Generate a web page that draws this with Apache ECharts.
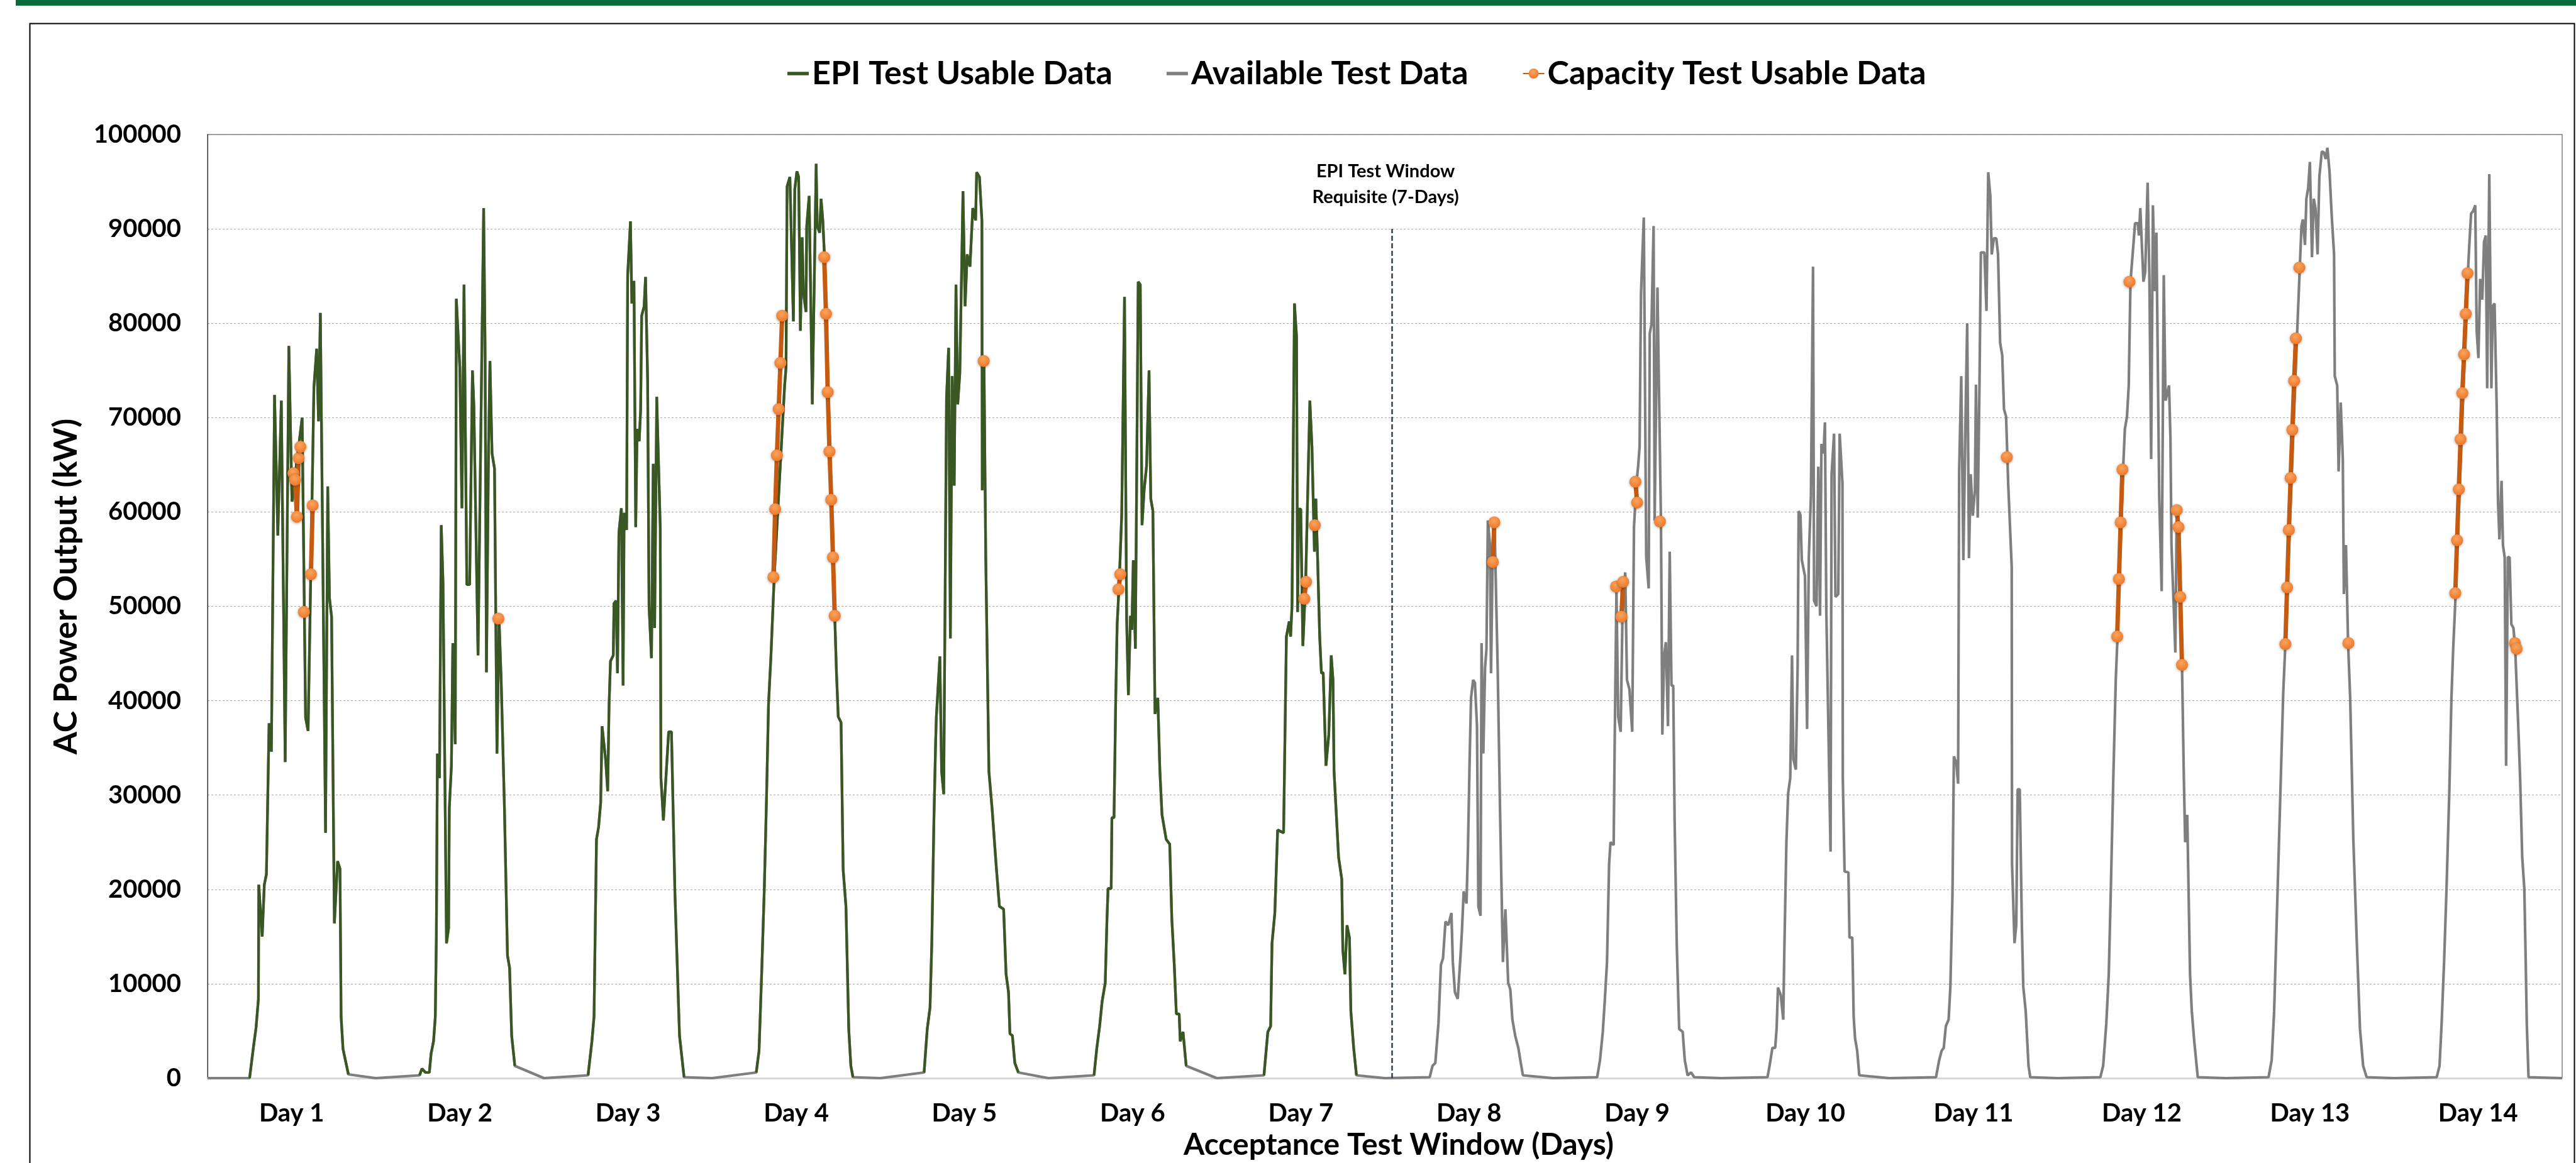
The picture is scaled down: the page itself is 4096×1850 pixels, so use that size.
<!DOCTYPE html>
<html><head><meta charset="utf-8">
<script src="https://cdn.jsdelivr.net/npm/echarts@6/dist/echarts.min.js"></script>
<style>html,body{margin:0;padding:0;background:#fff;overflow:hidden}#c{width:4096px;height:1850px}</style>
</head><body><div id="c"></div>
<script>
// ---------------- data (hour of day, kW) ----------------
const dayLabels = ['Day 1','Day 2','Day 3','Day 4','Day 5','Day 6','Day 7','Day 8','Day 9','Day 10','Day 11','Day 12','Day 13','Day 14'];
const seriesNames = ['EPI Test Usable Data','Available Test Data','Capacity Test Usable Data'];
const epiDayCount = 7;
const epiWindowHour = 169;
const epiWindowTop = 90000;
const annotationText = 'EPI Test Window\nRequisite (7-Days)';
const xAxisTitle = 'Acceptance Test Window (Days)';
const yAxisTitle = 'AC Power Output (kW)';

const day01 = [[6.0,0],[6.57,3400],[6.93,5400],[7.26,8400],[7.31,20500],[7.8,15000],[8.1,20500],[8.4,21600],[8.78,37600],[9.11,34600],[9.56,72400],[10.03,57500],[10.53,71800],[11.08,33500],[11.6,77600],[12.05,61100],[13.5,70000],[13.99,38200],[14.35,36800],[15.18,73200],[15.57,77300],[15.84,69600],[16.1,81100],[16.84,26000],[17.15,62700],[17.4,50900],[17.7,48900],[18.1,16400],[18.56,23000],[18.9,22200],[19.06,6500],[19.33,3100],[19.7,1800],[20.1,400]];
const day02 = [[6.25,300],[6.6,1000],[7.1,600],[7.65,600],[7.9,2600],[8.25,3900],[8.5,6500],[8.65,14900],[8.8,34400],[9.1,31800],[9.35,58600],[9.6,52600],[10.1,14300],[10.4,15900],[10.5,28600],[10.8,33100],[11.0,46100],[11.35,35400],[11.5,82600],[12.0,75300],[12.3,60400],[12.6,84100],[13.0,52300],[13.4,52300],[13.8,75000],[14.0,71400],[14.6,44800],[15.4,92200],[15.6,77900],[15.8,43000],[16.1,66900],[16.3,76000],[16.6,66200],[16.95,64600],[17.3,34400],[17.6,48700],[17.9,42200],[18.35,29200],[18.8,13000],[19.1,11700],[19.4,4500],[19.85,1300]];
const day03 = [[6.3,300],[6.85,3900],[7.15,6500],[7.5,25300],[7.8,26600],[8.1,29200],[8.3,37300],[8.8,33800],[9.1,30400],[9.3,39600],[9.5,44200],[9.9,44800],[10.0,50300],[10.3,50600],[10.5,42900],[10.7,57800],[11.05,60400],[11.3,41600],[11.45,59900],[11.8,58100],[11.95,85100],[12.35,90800],[12.55,82100],[12.85,84500],[13.1,58400],[13.3,68800],[13.6,67500],[13.8,70800],[13.95,80800],[14.3,81800],[14.5,84900],[14.8,74000],[15.0,50000],[15.35,44500],[15.6,65100],[15.8,47700],[16.1,72200],[16.6,58400],[16.7,31800],[17.05,27300],[17.8,36700],[18.2,36700],[18.7,19500],[19.35,4500],[20.0,100]];
const day04 = [[6.3,600],[6.7,2900],[7.1,11700],[7.45,20100],[7.75,29200],[8.05,39600],[8.4,44800],[8.85,52900],[10.35,73400],[10.55,75300],[10.7,94500],[11.1,95500],[11.6,80200],[11.8,94200],[12.1,96100],[12.35,95500],[12.6,79200],[12.85,89100],[13.05,83100],[13.4,81200],[13.5,90300],[13.85,93500],[14.3,71400],[14.85,96900],[15.0,90300],[15.35,89600],[15.55,93200],[15.8,90900],[16.0,87700],[17.5,49000],[17.75,42900],[18.0,38300],[18.4,37700],[18.7,22100],[19.1,18200],[19.5,5200],[19.8,1300],[20.1,100]];
const day05 = [[6.25,600],[6.7,5200],[7.1,7500],[7.35,14300],[7.65,27300],[7.9,35700],[8.0,38300],[8.5,44700],[8.75,32500],[9.05,30100],[9.45,72100],[9.75,77400],[10.0,46600],[10.25,74400],[10.55,62800],[10.8,84100],[11.05,71400],[11.35,74700],[11.8,94000],[12.1,81800],[12.4,87300],[12.8,86000],[13.2,92200],[13.6,90900],[13.75,96000],[14.15,95500],[14.5,90900],[14.55,62300],[14.8,76000],[15.05,55200],[15.5,32500],[15.95,28600],[16.55,22400],[17.0,18200],[17.6,17900],[17.95,11000],[18.3,9100],[18.5,4700],[18.85,4500],[19.2,1600],[19.7,600]];
const day06 = [[6.5,300],[6.9,3200],[7.3,5500],[7.65,8100],[8.1,10100],[8.35,16900],[8.5,20100],[8.95,20100],[9.05,27600],[9.35,27600],[9.6,40300],[9.8,48100],[10.1,52600],[10.45,59700],[10.85,82800],[11.15,48700],[11.4,40600],[11.7,49000],[11.9,47500],[12.1,54900],[12.4,45500],[12.8,84400],[13.1,84100],[13.35,58600],[13.65,62300],[14.0,64900],[14.35,75000],[14.6,61400],[14.9,60100],[15.2,38600],[15.6,40300],[15.9,32500],[16.2,27900],[16.8,25300],[17.3,24800],[17.6,16900],[17.95,12000],[18.25,6800],[18.65,6800],[18.8,3900],[19.2,4900],[19.65,1300]];
const day07 = [[6.75,300],[7.3,4900],[7.7,5500],[7.9,14300],[8.3,17500],[8.7,26300],[9.55,26000],[9.95,46800],[10.35,48400],[10.55,46800],[10.75,50000],[11.1,82100],[11.4,78600],[11.55,49400],[11.7,60300],[12.0,60300],[12.3,45800],[12.7,52600],[13.3,71800],[13.6,66900],[13.95,55800],[14.15,61400],[14.4,55200],[14.7,46800],[14.95,42900],[15.2,43000],[15.6,33100],[16.0,36400],[16.35,44800],[16.6,42200],[16.75,32500],[17.4,23400],[17.85,21100],[18.0,13600],[18.3,11000],[18.6,16200],[18.95,14900],[19.15,7100],[19.55,3200],[19.95,300]];
const day08 = [[6.4,100],[6.8,1300],[7.2,1600],[7.65,5800],[8.0,12000],[8.3,12700],[8.65,16600],[9.05,16200],[9.5,17500],[9.7,12300],[10.0,9100],[10.4,8400],[10.8,13000],[11.0,15600],[11.25,19800],[11.65,18500],[11.85,24000],[12.1,33800],[12.3,40300],[12.6,42200],[12.85,41900],[13.15,37300],[13.35,18200],[13.65,17200],[13.8,46100],[14.05,34400],[14.3,43500],[14.5,45500],[14.7,59100],[15.0,56500],[15.15,42900],[15.4,56200],[15.65,58800],[16.1,43500],[16.45,27900],[16.85,12300],[17.2,17900],[17.6,10100],[17.9,9400],[18.2,6200],[18.6,4500],[19.05,3200],[19.4,1600],[19.7,300]];
const day09 = [[6.3,100],[6.7,1900],[7.1,4900],[7.4,8400],[7.7,12300],[8.0,22700],[8.2,25000],[8.65,24700],[8.8,35700],[9.05,51600],[9.3,38300],[9.65,36700],[9.9,48700],[10.3,53600],[10.55,42200],[10.9,41200],[11.3,36700],[11.55,58400],[11.9,63000],[12.15,64900],[12.35,66900],[12.55,83100],[12.95,91200],[13.3,55200],[13.65,51900],[13.8,78900],[14.05,79900],[14.35,90300],[14.5,59100],[14.9,83800],[15.15,71400],[15.4,59100],[15.6,36400],[15.85,44800],[16.1,46200],[16.4,37300],[16.65,55800],[16.9,41600],[17.15,41600],[17.35,27300],[17.65,14300],[18.0,5200],[18.5,4900],[18.8,1900],[19.2,300],[19.7,600],[20.15,100]];
const day10 = [[6.6,100],[6.9,1300],[7.3,3200],[7.7,3200],[7.9,5200],[8.1,9600],[8.5,8800],[8.85,6200],[9.0,13300],[9.3,25000],[9.55,30200],[9.85,31800],[10.1,44800],[10.3,33800],[10.65,32700],[10.9,43500],[11.05,60100],[11.3,59700],[11.5,54900],[11.95,53200],[12.25,37000],[12.5,55200],[12.8,61700],[13.1,86000],[13.25,50600],[13.6,50000],[13.85,64800],[14.1,49000],[14.3,67200],[14.6,66200],[14.8,69500],[15.0,49400],[15.6,24000],[15.75,64000],[16.1,68300],[16.3,51000],[16.7,51300],[16.9,68300],[17.3,63000],[17.35,31800],[17.6,21900],[18.15,21800],[18.3,14900],[18.7,14900],[18.9,6500],[19.1,4200],[19.4,2900],[19.7,300]];
const day11 = [[6.65,100],[7.1,1900],[7.45,2900],[7.75,3200],[8.05,5500],[8.45,6200],[8.7,9700],[9.0,19500],[9.2,34100],[9.55,33400],[9.8,31200],[9.95,64300],[10.25,74400],[10.55,54900],[10.9,71800],[11.1,80000],[11.35,55100],[11.6,64000],[11.9,59600],[12.2,62300],[12.35,73500],[12.6,59400],[12.85,73400],[13.05,87500],[13.55,87500],[13.85,81300],[14.1,96000],[14.4,93500],[14.6,87300],[14.9,89000],[15.25,89000],[15.5,87300],[15.8,77900],[16.1,76600],[16.35,70900],[16.65,70100],[16.95,63000],[17.45,54200],[17.5,22700],[17.85,14300],[18.1,16200],[18.3,30600],[18.6,30600],[18.9,16200],[19.1,9700],[19.45,7100],[19.85,1300],[20.1,100]];
const day12 = [[6.1,100],[6.5,1300],[6.95,5800],[7.3,11000],[7.6,20100],[7.95,31800],[8.3,42200],[8.55,46800],[9.35,64600],[9.6,68800],[9.9,70100],[10.15,73400],[10.4,84400],[10.75,87700],[11.05,90600],[11.45,90600],[11.6,89300],[11.8,92200],[12.25,84400],[12.5,85400],[12.85,94900],[13.1,84700],[13.35,65600],[13.6,92500],[13.9,83400],[14.1,89600],[14.5,61700],[14.85,51600],[15.15,85100],[15.4,71800],[15.9,73400],[16.1,67900],[16.25,56500],[16.6,49400],[16.8,45100],[17.0,60200],[17.25,58400],[17.5,51000],[17.75,43800],[18.0,32500],[18.2,25000],[18.5,27900],[18.9,11000],[19.15,7100],[19.5,3900],[20.0,100]];
const day13 = [[6.1,100],[6.55,1900],[6.9,7100],[7.25,16200],[7.75,29200],[8.2,40900],[8.5,46000],[10.15,78400],[10.55,85700],[10.8,90300],[11.0,91000],[11.3,88300],[11.5,93200],[11.75,94300],[12.0,97100],[12.3,87000],[12.55,93200],[12.8,92200],[13.1,87300],[13.35,95500],[13.7,98200],[14.0,98100],[14.25,97400],[14.5,98600],[14.8,96100],[15.1,91600],[15.45,87300],[15.55,74400],[15.9,73400],[16.1,64300],[16.4,71600],[16.7,65600],[16.85,51300],[17.15,56500],[17.45,46100],[17.75,40300],[18.2,25300],[18.7,14300],[19.15,5200],[19.6,1300],[20.1,100]];
const day14 = [[6.1,100],[6.5,1300],[6.8,5800],[7.15,12300],[7.5,20100],[7.9,30500],[8.2,40300],[8.45,45500],[8.8,51300],[10.55,85400],[10.75,88300],[11.0,91600],[11.3,91900],[11.6,92500],[11.8,79200],[12.05,76300],[12.3,84700],[12.6,82500],[12.85,88600],[13.1,89300],[13.3,73100],[13.6,95800],[13.9,73100],[14.1,81800],[14.35,82100],[14.65,71400],[14.85,61000],[15.05,57100],[15.35,63300],[15.55,56500],[15.8,55200],[16.0,33100],[16.25,55200],[16.5,55200],[16.75,48100],[17.05,47700],[17.3,45500],[17.75,37000],[18.0,31800],[18.3,23400],[18.6,20100],[18.8,12300],[18.95,5800],[19.2,100]];

const cap01 = [[12.25,64100],[12.5,63400],[12.75,59500],[13.0,65700],[13.25,66900],[13.75,49400],[14.75,53400],[15.0,60700]];
const cap02 = [[17.5,48700]];
const cap03 = [];
const cap04 = [[8.75,53100],[9.0,60300],[9.25,66000],[9.5,70900],[9.75,75800],[10.0,80800],[16.0,87000],[16.25,81000],[16.5,72700],[16.75,66400],[17.0,61300],[17.25,55200],[17.5,49000]];
const cap05 = [[14.75,76000]];
const cap06 = [[10.0,51800],[10.25,53400]];
const cap07 = [[12.5,50800],[12.75,52600],[14.0,58600]];
const cap08 = [[15.4,54700],[15.62,58900]];
const cap09 = [[9.0,52100],[9.75,48900],[10.0,52600],[11.75,63200],[12.0,61000],[15.25,59000]];
const cap10 = [];
const cap11 = [[16.75,65800]];
const cap12 = [[8.5,46800],[8.75,52900],[9.0,58900],[9.25,64500],[10.25,84400],[17.0,60200],[17.25,58400],[17.5,51000],[17.75,43800]];
const cap13 = [[8.5,46000],[8.75,52000],[9.0,58100],[9.25,63600],[9.5,68700],[9.75,73900],[10.0,78400],[10.5,85900],[17.5,46100]];
const cap14 = [[8.75,51400],[9.0,57000],[9.25,62400],[9.5,67700],[9.75,72600],[10.0,76700],[10.25,81000],[10.5,85300],[17.25,46100],[17.5,45500]];

// ---------------- build ----------------
const allDays = [day01,day02,day03,day04,day05,day06,day07,day08,day09,day10,day11,day12,day13,day14];
const capDays = [cap01,cap02,cap03,cap04,cap05,cap06,cap07,cap08,cap09,cap10,cap11,cap12,cap13,cap14];
const H = 24, GAP = '-';
const availData = [];
allDays.forEach((pts, d) => {
  const off = d * H;
  availData.push([off, 0]);
  pts.forEach(p => availData.push([off + p[0], p[1]]));
  availData.push([off + H, 0]);
});
const epiData = [];
allDays.slice(0, epiDayCount).forEach((pts, d) => {
  const off = d * H;
  pts.forEach(p => epiData.push([off + p[0], p[1]]));
  epiData.push([off + H - 0.01, GAP]);
});
const capData = [];
capDays.forEach((pts, d) => {
  const off = d * H;
  let prev = null;
  pts.forEach(p => {
    if (prev !== null && p[0] - prev > 0.3) capData.push([off + prev + 0.05, GAP]);
    capData.push([off + p[0], p[1]]);
    prev = p[0];
  });
  capData.push([off + H - 0.01, GAP]);
});

const F = 'Lato';
const lineIcon = 'path://M0,0L34,0L34,5.5L0,5.5Z';
const chart = echarts.init(document.getElementById('c'), null, {renderer: 'canvas'});
chart.setOption({
  animation: false,
  backgroundColor: '#ffffff',
  graphic: [
    {type: 'rect', left: 25, top: 0, shape: {width: 4071, height: 9}, style: {fill: '#066B3A'}, silent: true},
    {type: 'rect', left: 45, top: 35, shape: {width: 4046, height: 1900}, style: {fill: 'none', stroke: '#000', lineWidth: 2}, silent: true},
    {type: 'text', x: 105, y: 933, rotation: Math.PI / 2, silent: true,
     style: {text: yAxisTitle, fontFamily: F, fontWeight: 'bold', fontSize: 52, fill: '#000', textAlign: 'center', textVerticalAlign: 'middle'}},
    {type: 'text', x: 2224, y: 1822, silent: true,
     style: {text: xAxisTitle, fontFamily: F, fontWeight: 'bold', fontSize: 48, fill: '#000', textAlign: 'center', textVerticalAlign: 'middle'}}
  ],
  legend: {
    data: [
      {name: seriesNames[0], icon: lineIcon, itemStyle: {color: '#385723'}},
      {name: seriesNames[1], icon: lineIcon, itemStyle: {color: '#7F7F7F'}},
      {name: seriesNames[2]}
    ],
    left: 1247, top: 84, itemWidth: 34, itemHeight: 20, itemGap: 86, symbolKeepAspect: true,
    textStyle: {fontFamily: F, fontWeight: 'bold', fontSize: 52, color: '#000', lineHeight: 56}
  },
  grid: {left: 330, right: 22, top: 214, bottom: 135, show: true, borderColor: '#7F7F7F', borderWidth: 1.5, containLabel: false},
  xAxis: {
    type: 'value', min: 0, max: 336, interval: 12,
    axisLine: {show: true, lineStyle: {color: '#D9D9D9', width: 3}},
    axisTick: {show: false}, splitLine: {show: false},
    axisLabel: {show: true, margin: 36, fontFamily: F, fontWeight: 'bold', fontSize: 40, lineHeight: 40, color: '#000',
      formatter: v => (v % 24 === 12 ? dayLabels[(v - 12) / 24] : '')}
  },
  yAxis: {
    type: 'value', min: 0, max: 100000, interval: 10000,
    axisLine: {show: true, lineStyle: {color: '#262626', width: 1}},
    axisTick: {show: false},
    splitLine: {show: true, lineStyle: {color: '#A6A6A6', width: 1, type: [3, 3]}},
    axisLabel: {margin: 42, fontFamily: F, fontWeight: 'bold', fontSize: 40, color: '#000', formatter: v => String(v)}
  },
  series: [
    {name: seriesNames[0], type: 'line', data: epiData, z: 3, symbol: 'none', connectNulls: false,
     lineStyle: {color: '#385723', width: 4.2}, itemStyle: {color: '#385723'}},
    {name: seriesNames[1], type: 'line', data: availData, z: 2, symbol: 'none',
     lineStyle: {color: '#7F7F7F', width: 4.2}, itemStyle: {color: '#7F7F7F'},
     markLine: {silent: true, symbol: ['none', 'none'], animation: false,
       lineStyle: {type: [8, 4], color: '#333F50', width: 2.5},
       label: {show: true, position: 'end', distance: 30, formatter: annotationText, padding: [0, 20, 0, 0],
         fontFamily: F, fontWeight: 'bold', fontSize: 29, lineHeight: 41, color: '#000'},
       data: [[{coord: [epiWindowHour, 0]}, {coord: [epiWindowHour, epiWindowTop]}]]}},
    {name: seriesNames[2], type: 'line', data: capData, z: 4, symbol: 'circle', symbolSize: 19, showSymbol: true, showAllSymbol: true, connectNulls: false,
     lineStyle: {color: '#C55A11', width: 7},
     itemStyle: {color: new echarts.graphic.RadialGradient(0.45, 0.35, 0.7, [{offset: 0, color: '#F9A45F'}, {offset: 1, color: '#EC7424'}]),
       shadowBlur: 4, shadowColor: 'rgba(0,0,0,0.35)', shadowOffsetY: 1}}
  ]
});
</script></body></html>
